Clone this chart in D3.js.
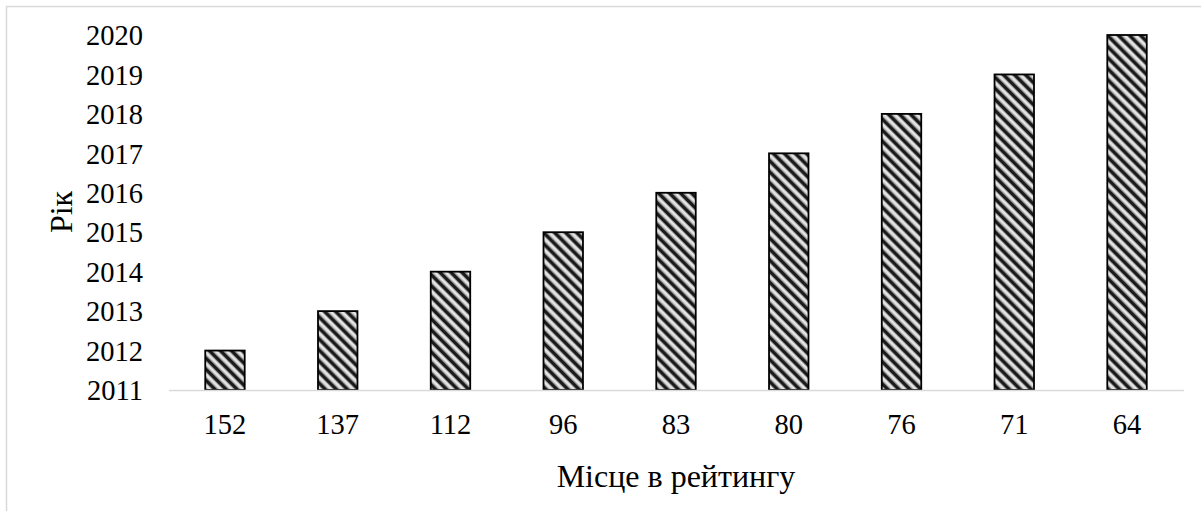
<!DOCTYPE html>
<html><head><meta charset="utf-8">
<script src="https://cdn.jsdelivr.net/npm/d3@7"></script>
<style>html,body{margin:0;padding:0;background:#fff;}svg{display:block;}</style>
</head><body>
<svg id="chart" width="1201" height="511"></svg>
<script>
const categories = ["152","137","112","96","83","80","76","71","64"];
const years = [2012,2013,2014,2015,2016,2017,2018,2019,2020];
const yTicks = [2011,2012,2013,2014,2015,2016,2017,2018,2019,2020];
const xTitle = "Місце в рейтингу";
const yTitle = "Рік";

const svg = d3.select("#chart");
const font = "'Liberation Serif','Times New Roman',serif";

// frame
svg.append("rect").attr("x",6.5).attr("y",6.5).attr("width",1300).attr("height",700)
  .attr("fill","none").attr("stroke","#d9d9d9").attr("stroke-width",1.5);

// hatch pattern (wide downward diagonal)
const defs = svg.append("defs");
const pat = defs.append("pattern").attr("id","hatch").attr("patternUnits","userSpaceOnUse")
  .attr("width",7.8).attr("height",7.8).attr("patternTransform","rotate(-45)");
pat.append("rect").attr("width",7.8).attr("height",7.8).attr("fill","#e6e6e6");
pat.append("rect").attr("x",0).attr("y",0).attr("width",3.4).attr("height",7.8).attr("fill","#1a1a1a");
pat.append("rect").attr("x",3.4).attr("y",0).attr("width",0.8).attr("height",7.8).attr("fill","#888");
pat.append("rect").attr("x",7.0).attr("y",0).attr("width",0.8).attr("height",7.8).attr("fill","#888");

const x = d3.scaleBand().domain(categories).range([168.6,1183.4]).paddingInner(0.65).paddingOuter(0.325);
const y = d3.scaleLinear().domain([2011,2020]).range([390,35]);

// bars
svg.append("g").selectAll("rect").data(categories).join("rect")
  .attr("x",d=>x(d)).attr("width",x.bandwidth())
  .attr("y",(d,i)=>y(years[i])).attr("height",(d,i)=>y(2011)-y(years[i]))
  .attr("fill","url(#hatch)").attr("stroke","#000").attr("stroke-width",1.8);

// x axis line
const xAxis = d3.axisBottom(x).tickSize(0).tickPadding(0);
const gx = svg.append("g").attr("transform","translate(0,390)").call(xAxis);
gx.attr("font-family",font);
gx.select(".domain").attr("stroke","#d9d9d9").attr("stroke-width",1.5);
gx.selectAll("text").attr("font-family",font).attr("font-size",28.5).attr("fill","#000")
  .attr("dy",null).attr("y",44);

// y axis labels
const yAxis = d3.axisLeft(y).tickValues(yTicks).tickFormat(d3.format("d")).tickSize(0).tickPadding(0);
const gy = svg.append("g").attr("transform","translate(143,0)").call(yAxis);
gy.attr("font-family",font);
gy.select(".domain").remove();
gy.selectAll("text").attr("font-family",font).attr("font-size",28.5).attr("fill","#000").attr("dy","0.34em");

// titles
svg.append("text").attr("x",676).attr("y",487).attr("text-anchor","middle")
  .attr("font-family",font).attr("font-size",32).attr("fill","#000").text(xTitle);
svg.append("text").attr("transform","translate(72,212) rotate(-90)").attr("text-anchor","middle")
  .attr("font-family",font).attr("font-size",32).attr("fill","#000").text(yTitle);
</script>
</body></html>
